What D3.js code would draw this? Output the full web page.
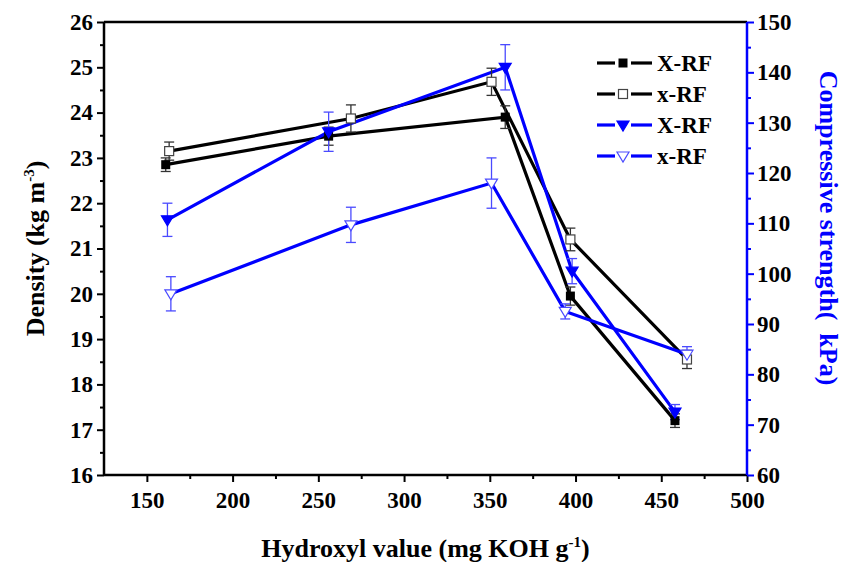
<!DOCTYPE html>
<html>
<head>
<meta charset="utf-8">
<script src="https://cdn.jsdelivr.net/npm/d3@7"></script>
<style>
  body { margin: 0; background: #fff; }
</style>
</head>
<body>
<div id="chart"></div>
<script>
// hydroxyl value (x) of each point, per series
const xBigSquare = [161, 256, 359, 397, 458];
const xSmallSquare = [163, 269, 351, 397, 465];
const xBigTri = [162, 256, 359, 398, 458];
const xSmallTri = [164, 269, 351, 394, 465];

// density (kg m-3)
const densityBig = [22.85, 23.48, 23.9, 19.95, 17.2];
const densityBigErr = [0.15, 0.2, 0.25, 0.2, 0.15];
const densitySmall = [23.15, 23.87, 24.68, 21.2, 18.55];
const densitySmallErr = [0.2, 0.3, 0.3, 0.25, 0.2];

// compressive strength (kPa)
const strengthBig = [110.7, 128.2, 141, 100.5, 72.5];
const strengthBigErr = [3.3, 3.9, 4.5, 2.5, 1.5];
const strengthSmall = [96, 109.7, 118, 92.5, 84];
const strengthSmallErr = [3.4, 3.5, 5, 1.5, 1.5];

const legendNames = ["X-RF", "x-RF", "X-RF", "x-RF"];
const xTicks = [150, 200, 250, 300, 350, 400, 450, 500];
const densityTicks = d3.range(16, 27, 1);
const strengthTicks = d3.range(60, 151, 10);

const W = 845, H = 562;
const mLeft = 104, mRight = 747, mTop = 22, mBottom = 475;
const BLUE = "#0000ff";
const FONT = "'Liberation Serif', 'Times New Roman', Times, serif";

const svg = d3.select("#chart").append("svg")
  .attr("width", W).attr("height", H)
  .attr("font-family", FONT).attr("font-weight", "bold");

const x = d3.scaleLinear().domain([125, 500]).range([mLeft, mRight]);
const yD = d3.scaleLinear().domain([16, 26]).range([mBottom, mTop]);
const yS = d3.scaleLinear().domain([60, 150]).range([mBottom, mTop]);

// axes -------------------------------------------------------------
function styleAxis(g, color) {
  g.attr("font-family", FONT).attr("font-weight", "bold");
  g.select(".domain").remove();
  g.selectAll("line").attr("stroke", color).attr("stroke-width", 2);
  g.selectAll("text").attr("fill", "#000").attr("font-size", "23px");
}

// minor ticks
svg.append("g").attr("transform", `translate(0,${mBottom})`)
  .call(d3.axisBottom(x).tickValues(d3.range(175, 500, 50)).tickSize(4).tickFormat(""))
  .call(g => styleAxis(g, "#000"));
svg.append("g").attr("transform", `translate(${mLeft},0)`)
  .call(d3.axisLeft(yD).tickValues(d3.range(16.5, 26, 1)).tickSize(4).tickFormat(""))
  .call(g => styleAxis(g, "#000"));
svg.append("g").attr("transform", `translate(${mRight},0)`)
  .call(d3.axisRight(yS).tickValues(d3.range(65, 150, 10)).tickSize(4).tickFormat(""))
  .call(g => styleAxis(g, BLUE));

// major ticks
svg.append("g").attr("transform", `translate(0,${mBottom})`)
  .call(d3.axisBottom(x).tickValues(xTicks).tickSize(7).tickPadding(10))
  .call(g => styleAxis(g, "#000"));
svg.append("g").attr("transform", `translate(${mLeft},0)`)
  .call(d3.axisLeft(yD).tickValues(densityTicks).tickSize(7).tickPadding(4))
  .call(g => styleAxis(g, "#000"));
svg.append("g").attr("transform", `translate(${mRight},0)`)
  .call(d3.axisRight(yS).tickValues(strengthTicks).tickSize(7).tickPadding(3))
  .call(g => styleAxis(g, BLUE));

// frame
svg.append("line").attr("x1", mLeft).attr("x2", mRight).attr("y1", mTop).attr("y2", mTop)
  .attr("stroke", "#000").attr("stroke-width", 2.5);
svg.append("line").attr("x1", mLeft).attr("x2", mRight).attr("y1", mBottom).attr("y2", mBottom)
  .attr("stroke", "#000").attr("stroke-width", 2.5);
svg.append("line").attr("x1", mLeft).attr("x2", mLeft).attr("y1", mTop).attr("y2", mBottom)
  .attr("stroke", "#000").attr("stroke-width", 2.5);
svg.append("line").attr("x1", mRight).attr("x2", mRight).attr("y1", mTop).attr("y2", mBottom)
  .attr("stroke", BLUE).attr("stroke-width", 2.5);

// titles
svg.append("text").attr("x", (mLeft + mRight) / 2).attr("y", 557)
  .attr("text-anchor", "middle").attr("font-size", "26px")
  .html('Hydroxyl value (mg KOH g<tspan dy="-10" font-size="15px">-1</tspan><tspan dy="10">)</tspan>');
svg.append("text").attr("transform", `translate(44,${(mTop + mBottom) / 2}) rotate(-90)`)
  .attr("text-anchor", "middle").attr("font-size", "26px")
  .html('Density (kg m<tspan dy="-10" font-size="15px">-3</tspan><tspan dy="10">)</tspan>');
svg.append("text").attr("transform", `translate(820,228) rotate(90)`)
  .attr("text-anchor", "middle").attr("font-size", "26px").attr("fill", BLUE)
  .attr("xml:space", "preserve").style("white-space", "pre")
  .text("Compressive strength(  kPa)");

// series -----------------------------------------------------------
const series = [
  { xs: xBigSquare, ys: densityBig, err: densityBigErr, scale: yD, color: "#000", errColor: "#333", marker: "fsq" },
  { xs: xSmallSquare, ys: densitySmall, err: densitySmallErr, scale: yD, color: "#000", errColor: "#333", marker: "osq" },
  { xs: xBigTri, ys: strengthBig, err: strengthBigErr, scale: yS, color: BLUE, errColor: "#4a4aff", marker: "ftri" },
  { xs: xSmallTri, ys: strengthSmall, err: strengthSmallErr, scale: yS, color: BLUE, errColor: "#4a4aff", marker: "otri" }
];

const line = d3.line();

series.forEach(s => {
  const pts = s.xs.map((v, i) => [x(v), s.scale(s.ys[i])]);
  svg.append("path").attr("d", line(pts))
    .attr("fill", "none").attr("stroke", s.color).attr("stroke-width", 3.2);
});

series.forEach(s => {
  const g = svg.append("g").attr("stroke", s.errColor).attr("stroke-width", 1.3);
  s.xs.forEach((v, i) => {
    const cx = x(v), y1 = s.scale(s.ys[i] - s.err[i]), y2 = s.scale(s.ys[i] + s.err[i]);
    g.append("line").attr("x1", cx).attr("x2", cx).attr("y1", y1).attr("y2", y2);
    g.append("line").attr("x1", cx - 5).attr("x2", cx + 5).attr("y1", y1).attr("y2", y1);
    g.append("line").attr("x1", cx - 5).attr("x2", cx + 5).attr("y1", y2).attr("y2", y2);
  });
});

function drawMarker(g, type, cx, cy) {
  if (type === "fsq") {
    g.append("rect").attr("x", cx - 4.5).attr("y", cy - 4.5).attr("width", 9).attr("height", 9)
      .attr("fill", "#000");
  } else if (type === "osq") {
    g.append("rect").attr("x", cx - 4.5).attr("y", cy - 4.5).attr("width", 9).attr("height", 9)
      .attr("fill", "#fff").attr("stroke", "#444").attr("stroke-width", 1.2);
  } else {
    const tri = `M${cx - 6},${cy - 4} L${cx + 6},${cy - 4} L${cx},${cy + 6} Z`;
    g.append("path").attr("d", tri)
      .attr("fill", type === "ftri" ? BLUE : "#fff")
      .attr("stroke", type === "ftri" ? BLUE : "#4a4aff").attr("stroke-width", 1.2);
  }
}

series.forEach(s => {
  const g = svg.append("g");
  s.xs.forEach((v, i) => drawMarker(g, s.marker, x(v), s.scale(s.ys[i])));
});

// legend
const legend = svg.append("g");
series.forEach((s, i) => {
  const ly = 63 + i * 31;
  legend.append("line").attr("x1", 597).attr("x2", 615).attr("y1", ly).attr("y2", ly)
    .attr("stroke", s.color).attr("stroke-width", 3.2);
  legend.append("line").attr("x1", 631).attr("x2", 652).attr("y1", ly).attr("y2", ly)
    .attr("stroke", s.color).attr("stroke-width", 3.2);
  drawMarker(legend, s.marker, 623, ly);
  legend.append("text").attr("x", 657).attr("y", ly + 8).attr("font-size", "23px")
    .text(legendNames[i]);
});
</script>
</body>
</html>
